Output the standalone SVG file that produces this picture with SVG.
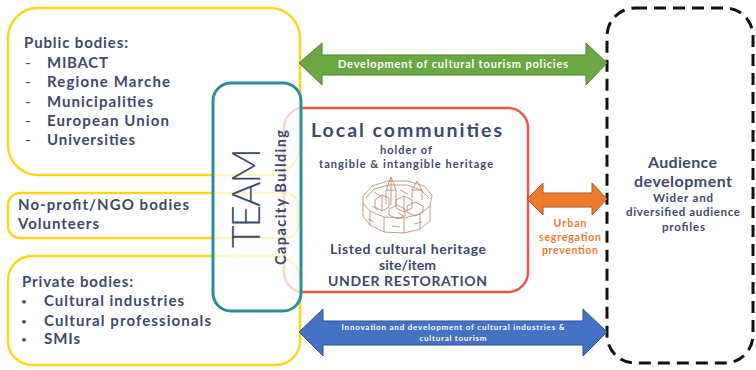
<svg xmlns="http://www.w3.org/2000/svg" width="756" height="370" viewBox="0 0 756 370">
  <style>
    .txt { font-family: "Lato", "Liberation Sans", sans-serif; font-weight: 700; fill: #3d4a6b; }
    .yellow { fill: none; stroke: #fad51e; stroke-width: 2.5; }
    .arrowtxt { font-family: "Lato", "Liberation Sans", sans-serif; font-weight: 700; fill: #ffffff; text-anchor: middle; }
    .orange { font-family: "Lato", "Liberation Sans", sans-serif; font-weight: 700; fill: #ec7b30; text-anchor: middle; font-size: 10.5px; }
    .sketch { fill: none; stroke: #b48462; stroke-width: 0.8; stroke-linejoin: round; }
    .mark { font-family: "Lato", "Liberation Sans", sans-serif; fill: #3d4a6b; }
  </style>

  <rect width="756" height="370" fill="#ffffff"/>

  <!-- Public bodies -->
  <g id="public-bodies">
    <rect class="yellow" x="8" y="8" width="292" height="167" rx="30"/>
    <text class="txt" x="24" y="48" font-size="15" textLength="104" lengthAdjust="spacing">Public bodies:</text>
    <g font-size="15">
      <text class="mark" x="25" y="68">-</text>
      <text class="txt" x="47" y="68" textLength="61" lengthAdjust="spacing">MIBACT</text>
      <text class="mark" x="25" y="87">-</text>
      <text class="txt" x="47" y="87" textLength="123" lengthAdjust="spacing">Regione Marche</text>
      <text class="mark" x="25" y="107">-</text>
      <text class="txt" x="47" y="107" textLength="106" lengthAdjust="spacing">Municipalities</text>
      <text class="mark" x="25" y="126">-</text>
      <text class="txt" x="47" y="126" textLength="122" lengthAdjust="spacing">European Union</text>
      <text class="mark" x="25" y="145">-</text>
      <text class="txt" x="47" y="145" textLength="88" lengthAdjust="spacing">Universities</text>
    </g>
  </g>

  <!-- No-profit / NGO -->
  <g id="ngo-bodies">
    <rect class="yellow" x="8" y="193" width="290" height="45" rx="12"/>
    <text class="txt" x="18" y="210" font-size="15" textLength="171" lengthAdjust="spacing">No-profit/NGO bodies</text>
    <text class="txt" x="18" y="229" font-size="15" textLength="81" lengthAdjust="spacing">Volunteers</text>
  </g>

  <!-- Private bodies -->
  <g id="private-bodies">
    <rect class="yellow" x="8" y="256" width="292" height="109" rx="24"/>
    <text class="txt" x="22" y="287" font-size="15" textLength="111" lengthAdjust="spacing">Private bodies:</text>
    <g font-size="15">
      <text class="mark" x="21" y="305" font-size="10">•</text>
      <text class="txt" x="44" y="306" textLength="140" lengthAdjust="spacing">Cultural industries</text>
      <text class="mark" x="21" y="325" font-size="10">•</text>
      <text class="txt" x="44" y="326" textLength="167" lengthAdjust="spacing">Cultural professionals</text>
      <text class="mark" x="21" y="343" font-size="10">•</text>
      <text class="txt" x="44" y="344" textLength="36" lengthAdjust="spacing">SMIs</text>
    </g>
  </g>

  <!-- Local communities -->
  <g id="local-communities">
    <rect x="284" y="108" width="244" height="184" rx="20" fill="none" stroke="#e8574d" stroke-width="2.5"/>
    <text class="txt" x="311" y="137" font-size="19.5" textLength="191" lengthAdjust="spacing">Local communities</text>
    <text class="txt" x="380" y="154" font-size="11" textLength="52" lengthAdjust="spacing">holder of</text>
    <text class="txt" x="319" y="168" font-size="11" textLength="174" lengthAdjust="spacing">tangible &amp; intangible heritage</text>
    <!-- walled town sketch -->
    <g class="sketch">
      <path d="M363,196 L372,186 L388,181 L408,181 L424,186 L432,195 L430,206 L420,214 L404,218 L384,217 L370,211 L363,203 Z"/>
      <path d="M363,203 L363,216 L370,225 L384,232 L404,233 L420,229 L430,221 L430,206"/>
      <path d="M370,211 L370,225 M384,217 L384,232 M404,218 L404,233 M420,214 L420,229"/>
      <path d="M366,198 L374,189 L389,185 L407,185 L421,190 L428,197"/>
      <path d="M386,204 L386,190 L391,177 L396,190 L396,206"/>
      <path d="M386,190 L396,190 M391,177 L391,205"/>
      <path d="M412,198 L412,190 L417,181 L422,190 L422,200"/>
      <path d="M412,190 L422,190"/>
      <path d="M375,200 L382,195 L389,198 L389,207 L382,211 L375,207 Z M382,195 L382,211"/>
      <path d="M396,200 L404,196 L412,200 L412,208 L404,212 L396,208 Z M404,196 L404,212"/>
      <path d="M389,209 L397,205 L405,209 L405,216 L397,219 L389,215 Z"/>
      <path d="M407,206 L415,202 L423,206 L423,212 L415,216 L407,212 Z"/>
      <path d="M372,206 L378,210 M398,213 L404,216 M374,192 L380,196 M400,190 L408,194"/>
      <path d="M368,219 L374,222 M392,226 L400,227 M414,224 L422,222"/>
    </g>
    <text class="txt" x="330" y="254" font-size="14" textLength="156" lengthAdjust="spacing">Listed cultural heritage</text>
    <text class="txt" x="379" y="270" font-size="14" textLength="57" lengthAdjust="spacing">site/item</text>
    <text class="txt" x="328" y="286" font-size="14" textLength="159" lengthAdjust="spacing">UNDER RESTORATION</text>
  </g>

  <!-- TEAM -->
  <g id="team">
    <rect x="213" y="83" width="88" height="228" rx="18" fill="#ffffff" fill-opacity="0.75" stroke="#2e8d9b" stroke-width="3"/>
    <text x="260" y="248" transform="rotate(-90 260 248)" font-family="Lato, 'Liberation Sans', sans-serif" font-weight="300" font-size="39" fill="#3d4a6b" textLength="100" lengthAdjust="spacing">TEAM</text>
    <text class="txt" x="286" y="265" transform="rotate(-90 286 265)" font-size="14.5" textLength="135" lengthAdjust="spacing">Capacity Building</text>
  </g>

  <!-- Audience development -->
  <g id="audience-development">
    <rect x="607" y="8" width="146" height="355" rx="28" fill="none" stroke="#111111" stroke-width="3" stroke-dasharray="12 7"/>
    <text class="txt" x="648" y="168" font-size="16" textLength="69" lengthAdjust="spacing">Audience</text>
    <text class="txt" x="634" y="187" font-size="16" textLength="98" lengthAdjust="spacing">development</text>
    <text class="txt" x="653" y="202" font-size="11.5" textLength="60" lengthAdjust="spacing">Wider and</text>
    <text class="txt" x="626" y="216" font-size="11.5" textLength="114" lengthAdjust="spacing">diversified audience</text>
    <text class="txt" x="662" y="231" font-size="11.5" textLength="43" lengthAdjust="spacing">profiles</text>
  </g>

  <!-- Connectors -->
  <g id="connectors">
    <g id="policies-arrow">
      <polygon points="299,63 322,43 322,55 586,55 586,43 607,63 586,85 586,75 322,75 322,85" fill="#6aa842" stroke="#4f7f30" stroke-width="1"/>
      <text class="arrowtxt" x="453" y="68" font-size="11" textLength="230" lengthAdjust="spacing">Development of cultural tourism policies</text>
    </g>
    <g id="segregation-arrow">
      <polygon points="527,199 543,183 543,193 592,193 592,183 607,199 592,215 592,207 543,207 543,215" fill="#ec7b30" stroke="#ad5a22" stroke-width="1"/>
      <text class="orange" x="570" y="227" textLength="33" lengthAdjust="spacing">Urban</text>
      <text class="orange" x="570" y="241" textLength="62" lengthAdjust="spacing">segregation</text>
      <text class="orange" x="570" y="254" textLength="56" lengthAdjust="spacing">prevention</text>
    </g>
    <g id="innovation-arrow">
      <polygon points="299,332 323,309 323,321 583,321 583,309 607,332 583,356 583,345 323,345 323,356" fill="#4472c4" stroke="#2f528f" stroke-width="1"/>
      <text class="arrowtxt" x="453" y="330" font-size="8" textLength="223" lengthAdjust="spacing">Innovation and development of cultural industries &amp;</text>
      <text class="arrowtxt" x="453" y="341" font-size="8" textLength="67" lengthAdjust="spacing">cultural tourism</text>
    </g>
  </g>
</svg>
